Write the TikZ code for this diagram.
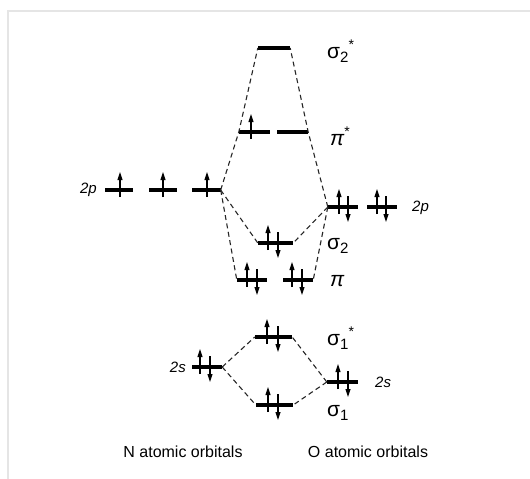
\documentclass[tikz,border=0pt]{standalone}
\usepackage{fontspec}
\setmainfont{Liberation Sans}
\usetikzlibrary{arrows.meta,calc}
\newcommand\eup[2]{\draw[eln,-{Triangle[length=8pt,width=5pt]}] ($(#1.center)+(#2,7)$) -- ($(#1.center)+(#2,-18)$);}
\newcommand\edn[2]{\draw[eln,-{Triangle[length=8pt,width=5pt]}] ($(#1.center)+(#2,-11)$) -- ($(#1.center)+(#2,15)$);}
\newcommand\mosub[1]{\raisebox{-4pt}{\fontsize{15}{15}\selectfont #1}}
\newcommand\mostar{\raisebox{9pt}{\fontsize{14}{14}\selectfont *}}
\newcommand\mopi{{\itshape π}}
\begin{document}
\begin{tikzpicture}[x=1pt,y=-1pt,
 lvl/.style={fill=black,inner sep=0pt,minimum height=4.5pt,minimum width=#1},
 lvl/.default=30,
 conn/.style={dash pattern=on 5pt off 3.5pt,line width=1.1pt,black!85},
 eln/.style={line width=1.1pt},
 lab/.style={font=\fontsize{15}{15}\selectfont\itshape,inner sep=0pt},
 mo/.style={font=\fontsize{21}{21}\selectfont,inner sep=0pt,anchor=west},
 capt/.style={font=\fontsize{16}{16}\selectfont,inner sep=0pt}
]
\useasboundingbox (0,0) rectangle (530,479);
\draw[black!10,line width=2pt] (8,479) -- (8,11) -- (530,11);

% N 2p
\node[lvl=28] (n2pa) at (119,190) {};
\node[lvl=28] (n2pb) at (163,190) {};
\node[lvl=29] (n2pc) at (206,190) {};
% O 2p
\node[lvl=30] (o2pa) at (343,207) {};
\node[lvl=30] (o2pb) at (382,207) {};
% MOs from 2p
\node[lvl=32] (s2s) at (274,48) {};
\node[lvl=31] (pisa) at (254.5,132) {};
\node[lvl=31] (pisb) at (292.5,132) {};
\node[lvl=35] (s2) at (275.5,243) {};
\node[lvl=30] (pia) at (252,280) {};
\node[lvl=30] (pib) at (298,280) {};
% 2s
\node[lvl=30] (n2s) at (207,367) {};
\node[lvl=31] (o2s) at (342.5,382) {};
\node[lvl=37] (s1s) at (273.5,337) {};
\node[lvl=37] (s1) at (274.5,405) {};

% connectors
\draw[conn] (n2pc.east) -- (pisa.west) -- (s2s.west);
\draw[conn] (o2pa.west) -- (pisb.east) -- (s2s.east);
\draw[conn] (n2pc.east) -- (s2.west);
\draw[conn] (n2pc.east) -- (pia.west);
\draw[conn] (o2pa.west) -- (s2.east);
\draw[conn] (o2pa.west) -- (pib.east);
\draw[conn] (n2s.east) -- (s1s.west);
\draw[conn] (n2s.east) -- (s1.west);
\draw[conn] (o2s.west) -- (s1s.east);
\draw[conn] (o2s.west) -- (s1.east);

% electrons
\eup{n2pa}{1}
\eup{n2pb}{0}
\eup{n2pc}{1}
\eup{o2pa}{-4}\edn{o2pa}{5}
\eup{o2pb}{-5}\edn{o2pb}{4}
\eup{pisa}{-3.5}
\eup{s2}{-7.5}\edn{s2}{2.5}
\eup{pia}{-5}\edn{pia}{5}
\eup{pib}{-6}\edn{pib}{4}
\eup{n2s}{-7}\edn{n2s}{3}
\eup{s1s}{-6.5}\edn{s1s}{4.5}
\eup{s1}{-6.5}\edn{s1}{3.5}
\eup{o2s}{-4.5}\edn{o2s}{5.5}

% labels
\node[lab,anchor=east] (l2pn) at (97,190) {2p};
\node[lab,anchor=west] (l2po) at (412,208) {2p};
\node[lab,anchor=east] (l2sn) at (186,367) {2s};
\node[lab,anchor=west] (l2so) at (375,382) {2s};
\node[mo] (ls2s) at (327,51) {σ\mosub{2}\mostar};
\node[mo] (lpis) at (330,136) {\mopi\mostar};
\node[mo] (ls2) at (327,246) {σ\mosub{2}};
\node[mo] (lpi) at (330,281) {\mopi};
\node[mo] (ls1s) at (327,338) {σ\mosub{1}\mostar};
\node[mo] (ls1) at (327,413) {σ\mosub{1}};
\node[capt] (capn) at (183,452) {N atomic orbitals};
\node[capt] (capo) at (368,452) {O atomic orbitals};
\end{tikzpicture}
\end{document}
